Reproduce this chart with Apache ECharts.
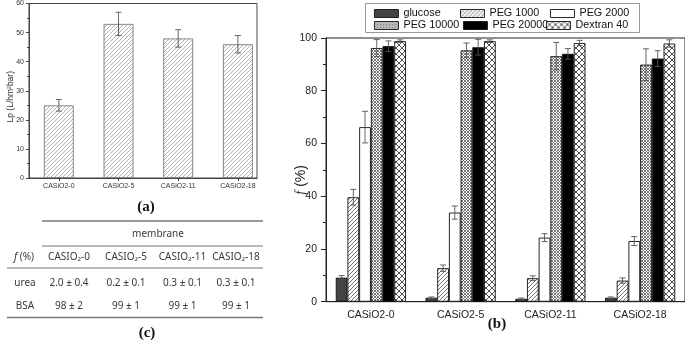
<!DOCTYPE html>
<html><head><meta charset="utf-8">
<script src="https://cdn.jsdelivr.net/npm/echarts@6/dist/echarts.min.js"></script>
<style>html,body{margin:0;padding:0;background:#fff}#c{width:685px;height:341px}</style>
</head><body><div id="c"></div>
<script>
// ---------- data: panel (a) ----------
const membranesA = ['CASiO2-0', 'CASiO2-5', 'CASiO2-11', 'CASiO2-18'];
const lpValues = [25, 53, 48, 46];
const lpErrors = [2, 4, 3, 3];
const lpTicks = [0, 10, 20, 30, 40, 50, 60];

// ---------- data: panel (b) ----------
const membranesB = ['CASiO2-0', 'CASiO2-5', 'CASiO2-11', 'CASiO2-18'];
const solutes = ['glucose', 'PEG 1000', 'PEG 2000', 'PEG 10000', 'PEG 20000', 'Dextran 40'];
const glucose   = [9.1, 1.5, 1.1, 1.5];
const peg1000   = [39.6, 12.7, 8.9, 8.0];
const peg2000   = [66.2, 33.8, 24.3, 23.0];
const peg10000  = [96.2, 95.3, 93.1, 89.9];
const peg20000  = [96.9, 96.5, 94.0, 92.2];
const dextran40 = [98.8, 98.8, 98.1, 97.9];
const glucoseErr   = [0.8, 0.3, 0.3, 0.3];
const peg1000Err   = [3.0, 1.2, 0.9, 1.0];
const peg2000Err   = [6.0, 2.5, 1.5, 1.7];
const peg10000Err  = [3.2, 2.8, 5.2, 6.0];
const peg20000Err  = [2.0, 3.0, 2.0, 3.0];
const dextran40Err = [0.5, 0.5, 1.0, 1.4];

// ---------- data: table (c) ----------
const tableTitle = 'membrane';
const tableCols = ['CASIO₂-0', 'CASIO₂-5', 'CASIO₂-11', 'CASIO₂-18'];
const tableRows = ['urea', 'BSA'];
const ureaVals = ['2.0 ± 0.4', '0.2 ± 0.1', '0.3 ± 0.1', '0.3 ± 0.1'];
const bsaVals = ['98 ± 2', '99 ± 1', '99 ± 1', '99 ± 1'];

// ---------- styles ----------
function pattern(size, bg, stroke, lw, dirs) {
  const c = document.createElement('canvas');
  c.width = size; c.height = size;
  const g = c.getContext('2d');
  g.fillStyle = bg; g.fillRect(0, 0, size, size);
  g.strokeStyle = stroke; g.lineWidth = lw;
  g.beginPath();
  for (const o of [-size, 0, size]) {
    if (dirs.includes('/')) { g.moveTo(o, size); g.lineTo(o + size, 0); }
    if (dirs.includes('\\')) { g.moveTo(o, 0); g.lineTo(o + size, size); }
  }
  g.stroke();
  return { image: c, repeat: 'repeat' };
}
const hatchA = pattern(4, '#fff', '#aaa', 0.9, '/');
const fills = [
  '#444',
  pattern(4, '#fff', '#666', 0.9, '/'),
  '#fff',
  pattern(3, '#fff', '#555', 0.8, '/\\'),
  '#000',
  pattern(6, '#fff', '#222', 0.8, '/\\')
];
const BW = 11.7;
const seriesB = [glucose, peg1000, peg2000, peg10000, peg20000, dextran40];
const errB = [glucoseErr, peg1000Err, peg2000Err, peg10000Err, peg20000Err, dextran40Err];
const legendPos = [[374, 8], [460, 8], [550, 8], [374, 20], [463, 20], [546, 20]];
const SANS = 'Liberation Sans, Arial, sans-serif';
const TSANS = 'Noto Sans, Open Sans, sans-serif';
const SERIF = 'Liberation Serif, Times New Roman, serif';

function errRenderer(offset, cap, color, lw) {
  return function (params, api) {
    const x = api.value(0), v = api.value(1), e = api.value(2);
    const hi = api.coord([x, v + e]);
    const lo = api.coord([x, v - e]);
    const cx = hi[0] + offset;
    const st = { stroke: color, lineWidth: lw };
    return {
      type: 'group', children: [
        { type: 'line', shape: { x1: cx, y1: hi[1], x2: cx, y2: lo[1] }, style: st },
        { type: 'line', shape: { x1: cx - cap, y1: hi[1], x2: cx + cap, y2: hi[1] }, style: st },
        { type: 'line', shape: { x1: cx - cap, y1: lo[1], x2: cx + cap, y2: lo[1] }, style: st }
      ]
    };
  };
}

const series = [];
// panel (a)
series.push({
  type: 'bar', xAxisIndex: 0, yAxisIndex: 0, barWidth: 30,
  data: lpValues.map((v, i) => [i, v]),
  itemStyle: { color: hatchA, borderColor: '#888', borderWidth: 1 },
  silent: true, z: 2
});
series.push({
  type: 'custom', xAxisIndex: 0, yAxisIndex: 0, z: 5,
  data: lpValues.map((v, i) => [i, v, lpErrors[i]]),
  renderItem: errRenderer(0, 3, '#555', 0.9), silent: true
});
// panel (b)
solutes.forEach((name, s) => {
  series.push({
    type: 'bar', name, xAxisIndex: 1, yAxisIndex: 1, barWidth: BW, barGap: '0%',
    data: seriesB[s],
    itemStyle: { color: fills[s], borderColor: '#111', borderWidth: 0.9 },
    silent: true, z: 2
  });
});
solutes.forEach((name, s) => {
  series.push({
    type: 'custom', xAxisIndex: 1, yAxisIndex: 1, z: 5,
    data: seriesB[s].map((v, i) => [i, v, errB[s][i]]),
    renderItem: errRenderer((s - 2.5) * BW, 3, '#555', 0.9), silent: true
  });
});

const legends = solutes.map((name, s) => ({
  data: [name], left: legendPos[s][0], top: legendPos[s][1], padding: 0,
  icon: 'rect', itemWidth: 24, itemHeight: 8, itemGap: 0, selectedMode: false,
  itemStyle: { borderColor: '#111', borderWidth: 0.9 },
  textStyle: { fontSize: 10.8, color: '#111', fontFamily: SANS }
}));

// table graphics
const colX = [69, 126, 182.5, 236];
const rule = (x1, x2, y, w) => ({ type: 'line', shape: { x1, y1: y, x2, y2: y }, style: { stroke: '#777', lineWidth: w } });
const txt = (text, x, y, extra) => ({
  type: 'text', x, y,
  style: Object.assign({ text, fontSize: 10, fontFamily: TSANS, fill: '#3a3a3a', align: 'center', verticalAlign: 'middle' }, extra || {})
});
const graphics = [
  { type: 'rect', shape: { x: 365.5, y: 3.5, width: 274, height: 29 }, style: { fill: 'none', stroke: '#999', lineWidth: 1 } },
  rule(42, 263, 221, 1.6),
  txt(tableTitle, 158, 234),
  rule(42, 263, 246, 1.2),
  txt('{i|f} (%)', 24, 257.5, { rich: { i: { fontStyle: 'italic', fontSize: 10, fontFamily: TSANS } } }),
  rule(7, 263, 268, 1.2),
  txt(tableRows[0], 25, 283),
  txt(tableRows[1], 25, 306),
  rule(7, 263, 317.5, 1.6),
  txt('(a)', 146, 207, { fontSize: 15, fontWeight: 'bold', fontFamily: SERIF, fill: '#111' }),
  txt('(b)', 497, 324, { fontSize: 15, fontWeight: 'bold', fontFamily: SERIF, fill: '#111' }),
  txt('(c)', 147, 333, { fontSize: 15, fontWeight: 'bold', fontFamily: SERIF, fill: '#111' })
];
tableCols.forEach((c, i) => {
  graphics.push(txt(c, colX[i], 257.5));
  graphics.push(txt(ureaVals[i], colX[i], 283));
  graphics.push(txt(bsaVals[i], colX[i], 306));
});

const chart = echarts.init(document.getElementById('c'), null, { renderer: 'canvas' });
chart.setOption({
  animation: false,
  backgroundColor: '#fff',
  grid: [
    { left: 29, top: 3, right: 428, bottom: 163, show: true, borderColor: '#444', borderWidth: 1, backgroundColor: 'transparent' },
    { left: 326, top: 38, right: -1, bottom: 39.3, show: true, borderColor: '#222', borderWidth: 1, backgroundColor: 'transparent' }
  ],
  xAxis: [
    {
      type: 'value', gridIndex: 0, min: -0.5, max: 3.32, splitLine: { show: false },
      axisLine: { onZero: false, lineStyle: { color: '#444' } },
      axisTick: { customValues: [0, 1, 2, 3], length: 3, lineStyle: { color: '#444' } },
      axisLabel: { customValues: [0, 1, 2, 3], formatter: v => membranesA[Math.round(v)], fontSize: 7, color: '#333', fontFamily: SANS, margin: 5 }
    },
    {
      type: 'category', gridIndex: 1, data: membranesB,
      axisLine: { lineStyle: { color: '#222' } },
      axisTick: { alignWithLabel: true, length: 5, lineStyle: { color: '#222' } },
      axisLabel: { fontSize: 10.5, color: '#222', fontFamily: SANS, margin: 8 }
    }
  ],
  yAxis: [
    {
      type: 'value', gridIndex: 0, min: lpTicks[0], max: lpTicks[lpTicks.length - 1], interval: 10,
      splitLine: { show: false },
      axisLine: { show: true, onZero: false, lineStyle: { color: '#444' } },
      axisTick: { show: true, length: 3, lineStyle: { color: '#444' } },
      minorTick: { show: true, splitNumber: 2, length: 2, lineStyle: { color: '#444' } },
      axisLabel: { fontSize: 7, color: '#333', fontFamily: SANS, margin: 5 },
      name: 'Lp (L/hm²bar)', nameLocation: 'middle', nameGap: 14, nameMoveOverlap: false,
      nameTextStyle: { fontSize: 8.5, color: '#333', fontFamily: SANS, padding: [0, 12, 0, 0] }
    },
    {
      type: 'value', gridIndex: 1, min: 0, max: 100, interval: 20,
      splitLine: { show: false },
      axisLine: { show: true, lineStyle: { color: '#222' } },
      axisTick: { show: true, length: 5, lineStyle: { color: '#222' } },
      minorTick: { show: true, splitNumber: 2, length: 3, lineStyle: { color: '#222' } },
      axisLabel: { fontSize: 10.5, color: '#222', fontFamily: SANS, margin: 9 },
      name: '{i|f} (%)', nameLocation: 'middle', nameGap: 18, nameMoveOverlap: false,
      nameTextStyle: { fontSize: 14, color: '#222', fontFamily: SANS, padding: [0, 20, 0, 0], rich: { i: { fontStyle: 'italic', fontFamily: SERIF, fontSize: 14, color: '#222' } } }
    }
  ],
  legend: legends,
  series,
  graphic: graphics
});
</script>
</body></html>
